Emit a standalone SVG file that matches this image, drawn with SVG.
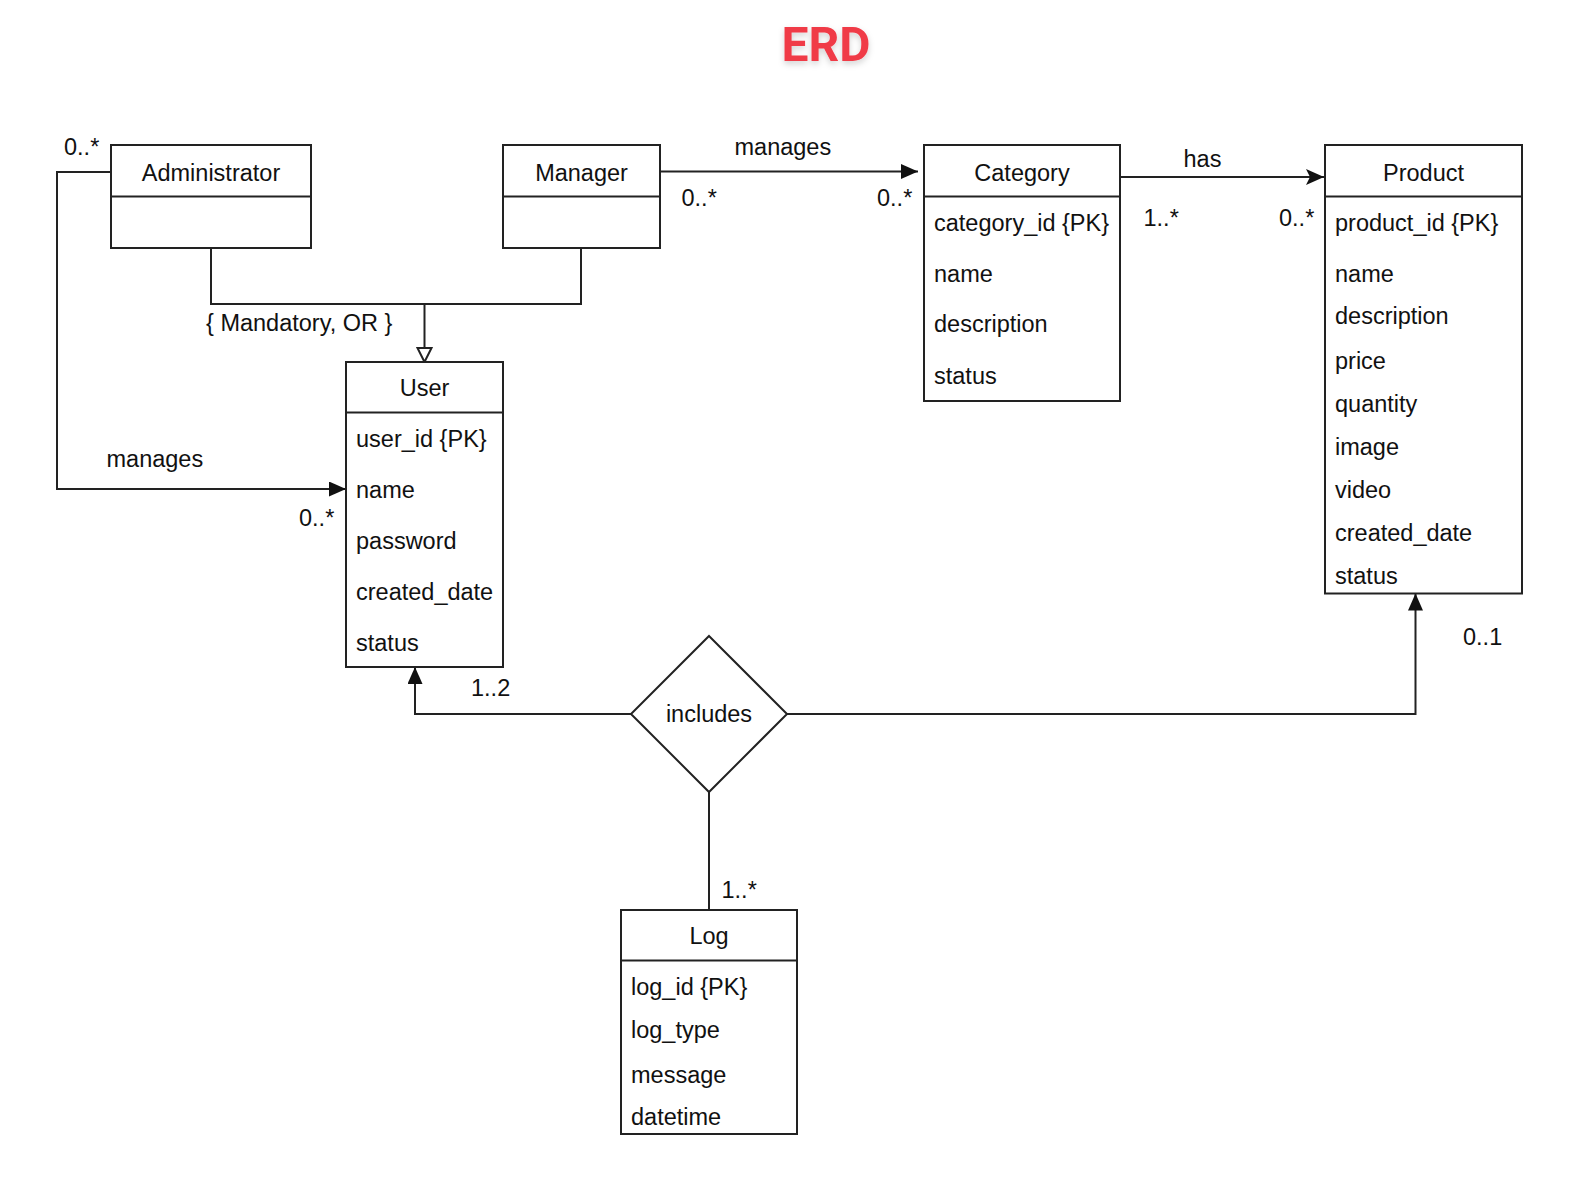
<svg xmlns="http://www.w3.org/2000/svg" width="1580" height="1184" viewBox="0 0 1580 1184">
<style>
.box{fill:#fff;stroke:#222;stroke-width:2}
.div{stroke:#222;stroke-width:2}
.t{font-family:"Liberation Sans",Arial,sans-serif;font-size:23.5px;fill:#111}
.h{text-anchor:middle}
.c{fill:none;stroke:#222;stroke-width:2}
.title{font-family:Roboto,"Liberation Sans",sans-serif;font-weight:bold;font-size:48px;fill:#f03a47;text-anchor:middle}
</style>
<defs>
<marker id="arr" markerUnits="userSpaceOnUse" markerWidth="17" markerHeight="15" viewBox="0 0 17 15" refX="17" refY="7.5" orient="auto">
<path d="M0,0 L17,7.5 L0,15 Z" fill="#111"/>
</marker>
<marker id="arrn" markerUnits="userSpaceOnUse" markerWidth="18" markerHeight="16" viewBox="0 0 18 16" refX="18" refY="8" orient="auto">
<path d="M0,0 L18,8 L0,16 L4,8 Z" fill="#111"/>
</marker>
<marker id="gen" markerUnits="userSpaceOnUse" markerWidth="18" markerHeight="18" viewBox="0 0 18 18" refX="16" refY="9" orient="auto">
<path d="M2,2 L16,9 L2,16 Z" fill="#fff" stroke="#222" stroke-width="2"/>
</marker>
<filter id="sh" x="-20%" y="-20%" width="140%" height="160%">
<feDropShadow dx="0" dy="3" stdDeviation="3" flood-color="#000" flood-opacity="0.18"/>
</filter>
</defs>
<rect width="1580" height="1184" fill="#fff"/>
<text class="title" x="826" y="61" filter="url(#sh)">ERD</text>

<g id="connectors">
<path class="c" d="M111,172 H57 V489 H346" marker-end="url(#arr)"/>
<path class="c" d="M211,248 V304 H581 V248"/>
<path class="c" d="M424.5,304 V362" marker-end="url(#gen)"/>
<path class="c" d="M660,171.5 H918" marker-end="url(#arr)"/>
<path class="c" d="M1120,177 H1324" marker-end="url(#arrn)"/>
<path class="c" d="M631,714 H415 V667" marker-end="url(#arr)"/>
<path class="c" d="M787,714 H1415.5 V593.5" marker-end="url(#arr)"/>
<path class="c" d="M709,792 V910"/>
<text class="t" x="64" y="155">0..*</text>
<text class="t" x="106.5" y="467">manages</text>
<text class="t" x="299" y="526">0..*</text>
<text class="t" x="206" y="331">{ Mandatory, OR }</text>
<text class="t" x="734.5" y="154.5">manages</text>
<text class="t" x="681.5" y="205.5">0..*</text>
<text class="t" x="877" y="205.5">0..*</text>
<text class="t" x="1183.5" y="166.5">has</text>
<text class="t" x="1143.5" y="225.5">1..*</text>
<text class="t" x="1279" y="225.5">0..*</text>
<text class="t" x="471" y="695.5">1..2</text>
<text class="t" x="1463" y="645">0..1</text>
<text class="t" x="721.5" y="898">1..*</text>
</g>

<g id="administrator">
<rect class="box" x="111" y="145" width="200" height="103"/>
<line class="div" x1="111" y1="196.5" x2="311" y2="196.5"/>
<text class="t h" x="211" y="181">Administrator</text>
</g>

<g id="manager">
<rect class="box" x="503" y="145" width="157" height="103"/>
<line class="div" x1="503" y1="196.5" x2="660" y2="196.5"/>
<text class="t h" x="581.5" y="181">Manager</text>
</g>

<g id="category">
<rect class="box" x="924" y="145" width="196" height="256"/>
<line class="div" x1="924" y1="196.5" x2="1120" y2="196.5"/>
<text class="t h" x="1022" y="181">Category</text>
<text class="t" x="934" y="230.5">category_id {PK}</text>
<text class="t" x="934" y="281.5">name</text>
<text class="t" x="934" y="332">description</text>
<text class="t" x="934" y="383.5">status</text>
</g>

<g id="product">
<rect class="box" x="1325" y="145" width="197" height="448.5"/>
<line class="div" x1="1325" y1="196.5" x2="1522" y2="196.5"/>
<text class="t h" x="1423.5" y="181">Product</text>
<text class="t" x="1335" y="230.5">product_id {PK}</text>
<text class="t" x="1335" y="281.5">name</text>
<text class="t" x="1335" y="324">description</text>
<text class="t" x="1335" y="368.5">price</text>
<text class="t" x="1335" y="411.5">quantity</text>
<text class="t" x="1335" y="454.5">image</text>
<text class="t" x="1335" y="497.5">video</text>
<text class="t" x="1335" y="540.5">created_date</text>
<text class="t" x="1335" y="583.5">status</text>
</g>

<g id="user">
<rect class="box" x="346" y="362" width="157" height="305"/>
<line class="div" x1="346" y1="412.5" x2="503" y2="412.5"/>
<text class="t h" x="424.5" y="396">User</text>
<text class="t" x="356" y="447">user_id {PK}</text>
<text class="t" x="356" y="498">name</text>
<text class="t" x="356" y="549">password</text>
<text class="t" x="356" y="600">created_date</text>
<text class="t" x="356" y="651">status</text>
</g>

<g id="includes">
<polygon class="box" points="709,636 787,714 709,792 631,714"/>
<text class="t h" x="709" y="722">includes</text>
</g>

<g id="log">
<rect class="box" x="621" y="910" width="176" height="224"/>
<line class="div" x1="621" y1="960.5" x2="797" y2="960.5"/>
<text class="t h" x="709" y="944">Log</text>
<text class="t" x="631" y="995">log_id {PK}</text>
<text class="t" x="631" y="1038">log_type</text>
<text class="t" x="631" y="1082.5">message</text>
<text class="t" x="631" y="1125">datetime</text>
</g>
</svg>
